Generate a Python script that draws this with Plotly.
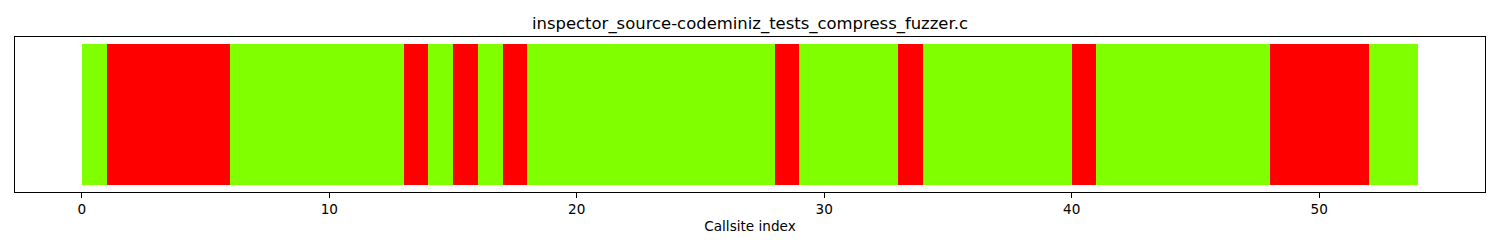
import plotly.graph_objects as go

# Per-callsite status (1 = reached/green, 0 = not reached/red)
callsite_index = list(range(54))
status = [1, 0, 0, 0, 0, 0, 1, 1, 1, 1, 1, 1, 1, 0, 1, 0, 1, 0,
          1, 1, 1, 1, 1, 1, 1, 1, 1, 1, 0, 1, 1, 1, 1, 0, 1, 1,
          1, 1, 1, 1, 0, 1, 1, 1, 1, 1, 1, 1, 0, 0, 0, 0, 1, 1]
x_ticks = [0, 10, 20, 30, 40, 50]
title_text = "inspector_source-codeminiz_tests_compress_fuzzer.c"
x_label = "Callsite index"

GREEN = "#7FFF00"
RED = "#FF0000"
colors = [GREEN if s else RED for s in status]

fig = go.Figure(go.Bar(
    x=[i + 0.5 for i in callsite_index],
    y=[1] * len(callsite_index),
    width=1,
    marker=dict(color=colors, line=dict(width=0)),
    hoverinfo="x",
))

font = "DejaVu Sans, sans-serif"
fig.update_layout(
    width=1500, height=250,
    margin=dict(l=15, r=15, t=37, b=58),
    paper_bgcolor="white", plot_bgcolor="white",
    bargap=0,
    showlegend=False,
    title=dict(text=title_text, x=0.5, xanchor="center", y=1 - 23 / 250, yanchor="middle",
               font=dict(family=font, size=16.45, color="black")),
    font=dict(family=font, size=13.6, color="black"),
)
fig.update_xaxes(
    range=[-2.7, 56.7],
    tickvals=x_ticks,
    ticks="outside", ticklen=5, tickwidth=1, tickcolor="black",
    showgrid=False, zeroline=False,
    showline=True, linecolor="black", linewidth=1, mirror=True,
    title=dict(text=x_label, font=dict(family=font, size=13.6), standoff=5),
    tickfont=dict(family=font, size=13.6),
)
fig.update_yaxes(
    range=[-0.05, 1.05],
    showticklabels=False, ticks="",
    showgrid=False, zeroline=False,
    showline=True, linecolor="black", linewidth=1, mirror=True,
)

fig.write_html("out.html")
